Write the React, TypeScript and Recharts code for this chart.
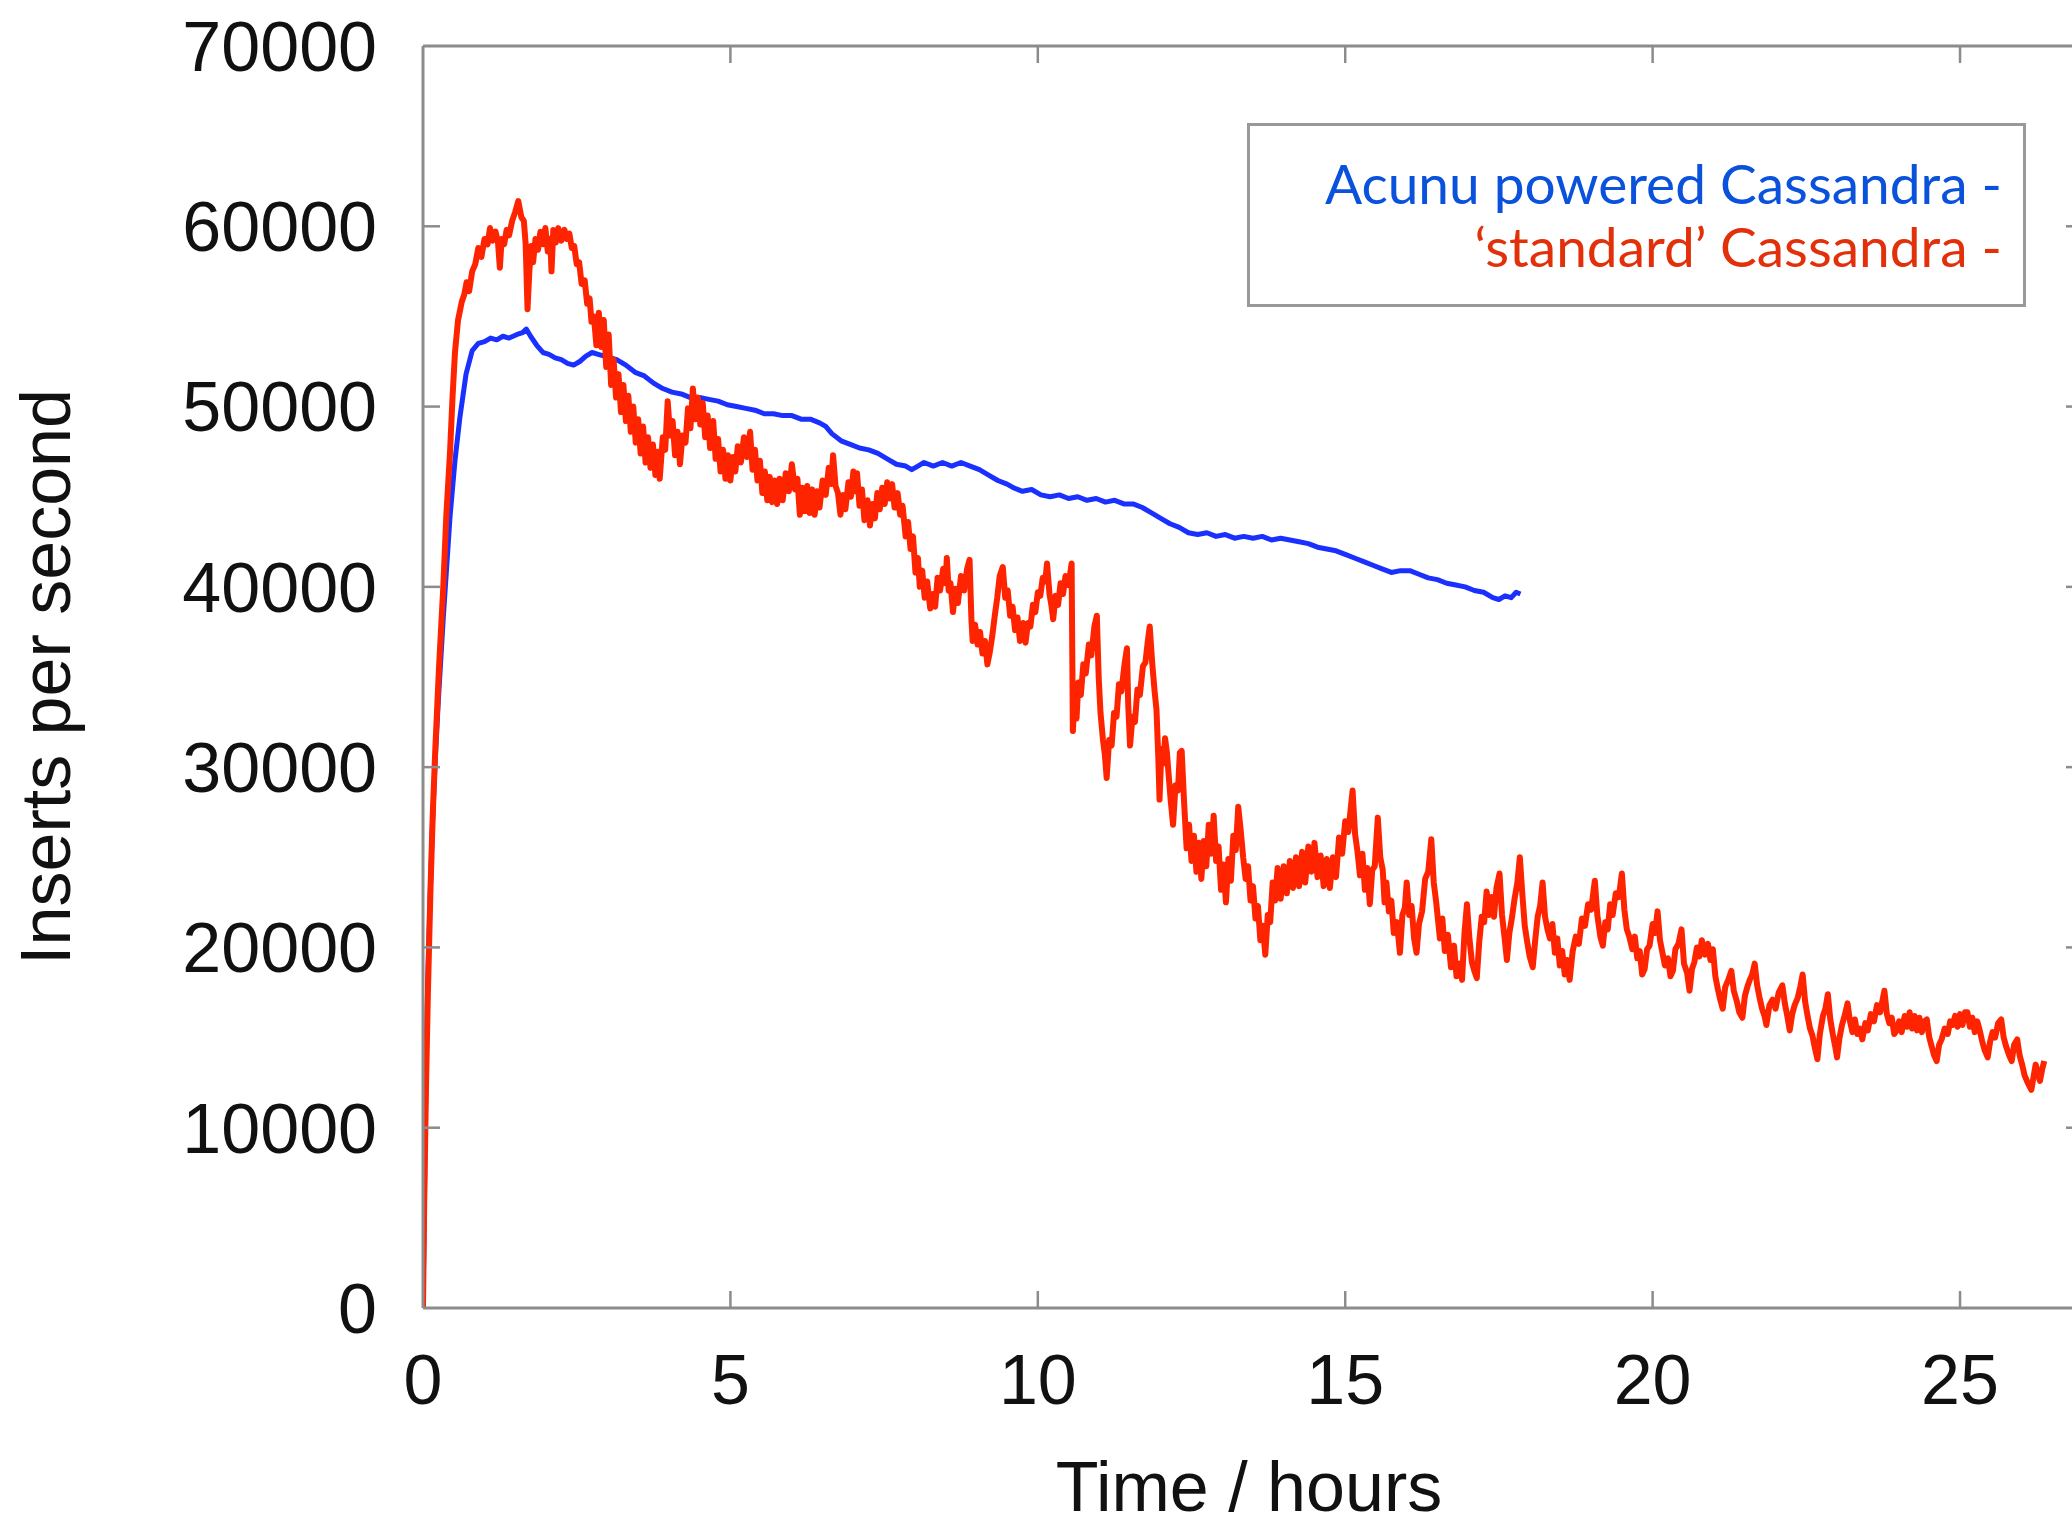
import React from 'react';
import { LineChart, Line, XAxis, YAxis } from 'recharts';

// ---- data (hours, inserts per second) ----
const acunuSeries: [number, number][] = [
  [0, 0], [0.02, 5000], [0.05, 13700], [0.08, 18500], [0.11, 22200], [0.15, 26500], [0.2, 30500], [0.25, 33700],
  [0.33, 38300], [0.44, 43900], [0.52, 47000], [0.6, 49400], [0.7, 51800], [0.8, 53100], [0.9, 53500], [1.0, 53600],
  [1.1, 53800], [1.2, 53700], [1.3, 53900], [1.4, 53800], [1.53, 54000], [1.62, 54100], [1.68, 54300], [1.75, 53900],
  [1.85, 53400], [1.95, 53000], [2.05, 52900], [2.15, 52700], [2.25, 52600], [2.35, 52400], [2.45, 52300], [2.55, 52500],
  [2.65, 52800], [2.75, 53000], [2.85, 52900], [2.95, 52800], [3.05, 52700], [3.15, 52600], [3.3, 52300], [3.45, 51900],
  [3.6, 51700], [3.75, 51300], [3.9, 51000], [4.05, 50800], [4.2, 50700], [4.35, 50500], [4.5, 50500], [4.65, 50400],
  [4.8, 50300], [4.95, 50100], [5.1, 50000], [5.25, 49900], [5.4, 49800], [5.55, 49600], [5.7, 49600], [5.85, 49500],
  [6.0, 49500], [6.15, 49300], [6.3, 49300], [6.45, 49100], [6.55, 48900], [6.65, 48500], [6.8, 48100], [6.95, 47900],
  [7.1, 47700], [7.25, 47600], [7.4, 47400], [7.55, 47100], [7.7, 46800], [7.85, 46700], [7.95, 46500], [8.05, 46700],
  [8.15, 46900], [8.3, 46700], [8.45, 46900], [8.6, 46700], [8.75, 46900], [8.9, 46700], [9.05, 46500], [9.2, 46200],
  [9.35, 45900], [9.5, 45700], [9.6, 45500], [9.75, 45300], [9.9, 45400], [10.05, 45100], [10.2, 45000], [10.35, 45100],
  [10.5, 44900], [10.65, 45000], [10.8, 44800], [10.95, 44900], [11.1, 44700], [11.25, 44800], [11.4, 44600], [11.55, 44600],
  [11.7, 44400], [11.85, 44100], [12.0, 43800], [12.15, 43500], [12.3, 43300], [12.45, 43000], [12.6, 42900], [12.75, 43000],
  [12.9, 42800], [13.05, 42900], [13.2, 42700], [13.35, 42800], [13.5, 42700], [13.65, 42800], [13.8, 42600], [13.95, 42700],
  [14.1, 42600], [14.25, 42500], [14.4, 42400], [14.55, 42200], [14.7, 42100], [14.85, 42000], [15.0, 41800], [15.15, 41600],
  [15.3, 41400], [15.45, 41200], [15.6, 41000], [15.75, 40800], [15.9, 40900], [16.05, 40900], [16.2, 40700], [16.35, 40500],
  [16.5, 40400], [16.65, 40200], [16.8, 40100], [16.95, 40000], [17.1, 39800], [17.25, 39700], [17.4, 39400], [17.5, 39300],
  [17.6, 39500], [17.7, 39400], [17.78, 39700], [17.85, 39600],
];

const standardSeries: [number, number][] = [
  [0, 0], [0.02, 6000], [0.05, 12500], [0.08, 17500], [0.12, 23000], [0.16, 27500], [0.2, 31000], [0.26, 35500],
  [0.33, 40000], [0.38, 44000], [0.44, 47500], [0.48, 50500], [0.52, 53000], [0.57, 54800], [0.63, 55800], [0.67, 56200],
  [0.71, 56900], [0.75, 56400], [0.8, 57500], [0.85, 57900], [0.9, 58800], [0.95, 58300], [1.0, 59300], [1.05, 59000],
  [1.09, 59900], [1.13, 59200], [1.18, 59700], [1.22, 59100], [1.25, 57700], [1.28, 59300], [1.32, 59000], [1.36, 59800],
  [1.4, 59500], [1.45, 60300], [1.5, 60800], [1.55, 61400], [1.6, 60500], [1.64, 60300], [1.67, 59000], [1.7, 55400],
  [1.73, 57500], [1.76, 58900], [1.79, 58000], [1.83, 59300], [1.87, 58700], [1.91, 59700], [1.95, 59000], [1.99, 59900],
  [2.03, 58600], [2.07, 59300], [2.09, 57500], [2.12, 59800], [2.16, 59100], [2.2, 59900], [2.25, 59200], [2.3, 59800],
  [2.34, 59300], [2.38, 59600], [2.42, 58800], [2.46, 58900], [2.5, 57900], [2.54, 58000], [2.58, 56800], [2.63, 57000],
  [2.67, 55700], [2.71, 56000], [2.74, 54700], [2.78, 55000], [2.82, 53400], [2.86, 55200], [2.9, 53300], [2.94, 54800],
  [2.98, 52200], [3.02, 54000], [3.06, 51200], [3.1, 52600], [3.14, 50500], [3.18, 51800], [3.22, 49700], [3.26, 51200],
  [3.3, 49200], [3.34, 50600], [3.38, 48600], [3.42, 50000], [3.46, 48000], [3.5, 49300], [3.54, 47400], [3.58, 48900],
  [3.62, 46900], [3.66, 48300], [3.7, 46600], [3.74, 47900], [3.78, 46200], [3.82, 47500], [3.85, 46000], [3.9, 48300],
  [3.94, 47600], [3.98, 50300], [4.02, 48400], [4.06, 49200], [4.1, 47300], [4.14, 48600], [4.18, 46800], [4.22, 48400],
  [4.27, 48000], [4.31, 49900], [4.35, 48800], [4.39, 51000], [4.43, 49300], [4.47, 50500], [4.51, 49000], [4.55, 50200],
  [4.59, 48300], [4.63, 49500], [4.67, 47700], [4.72, 49200], [4.76, 47100], [4.8, 48200], [4.84, 46400], [4.88, 47600],
  [4.92, 46000], [4.96, 47300], [5.0, 45900], [5.04, 47200], [5.08, 46400], [5.12, 47800], [5.17, 46900], [5.22, 48300],
  [5.27, 47200], [5.32, 48600], [5.36, 46500], [5.4, 47600], [5.44, 45900], [5.48, 47000], [5.52, 45200], [5.56, 46400],
  [5.6, 44800], [5.64, 46100], [5.68, 44700], [5.72, 45900], [5.76, 44600], [5.8, 46000], [5.85, 44800], [5.9, 46300],
  [5.95, 45300], [6.0, 46800], [6.05, 45400], [6.09, 46000], [6.13, 44000], [6.17, 45500], [6.21, 44200], [6.25, 45600],
  [6.29, 44100], [6.33, 45400], [6.37, 44000], [6.41, 45300], [6.45, 44400], [6.5, 45900], [6.55, 45100], [6.6, 46600],
  [6.64, 45700], [6.67, 47300], [6.71, 45600], [6.75, 45200], [6.79, 44000], [6.83, 45100], [6.87, 44300], [6.92, 45800],
  [6.96, 45000], [7.0, 46400], [7.03, 45300], [7.06, 46300], [7.1, 44500], [7.14, 45400], [7.18, 43700], [7.23, 44800],
  [7.27, 43400], [7.31, 44600], [7.35, 43800], [7.39, 45200], [7.43, 44300], [7.47, 45500], [7.51, 44600], [7.55, 45800],
  [7.59, 44900], [7.63, 45700], [7.67, 44400], [7.72, 45200], [7.76, 44000], [7.8, 44500], [7.85, 42800], [7.89, 43600],
  [7.93, 42100], [7.97, 42800], [8.01, 40800], [8.05, 41600], [8.08, 40000], [8.12, 40900], [8.16, 39400], [8.2, 40300],
  [8.25, 38800], [8.29, 39600], [8.33, 38900], [8.37, 40500], [8.41, 39800], [8.46, 41000], [8.5, 40200], [8.52, 41600],
  [8.55, 39800], [8.58, 40200], [8.62, 38600], [8.66, 39900], [8.7, 39100], [8.75, 40600], [8.8, 39800], [8.85, 41000],
  [8.89, 41500], [8.92, 38200], [8.94, 37000], [8.98, 37900], [9.02, 36800], [9.06, 37500], [9.1, 36300], [9.14, 37000],
  [9.18, 35700], [9.22, 36400], [9.26, 37300], [9.3, 38400], [9.34, 39400], [9.38, 40600], [9.43, 41100], [9.47, 39400],
  [9.51, 39800], [9.55, 38400], [9.59, 38900], [9.63, 37600], [9.67, 38300], [9.71, 37000], [9.76, 38000], [9.8, 36900],
  [9.84, 38000], [9.88, 37800], [9.92, 39000], [9.96, 38600], [10.0, 39700], [10.04, 39500], [10.08, 40500], [10.12, 40300],
  [10.15, 41300], [10.19, 39600], [10.22, 39000], [10.25, 38200], [10.29, 39500], [10.33, 39000], [10.37, 40200], [10.41, 39600],
  [10.45, 40600], [10.5, 40100], [10.55, 41300], [10.56, 36500], [10.57, 32000], [10.6, 33800], [10.63, 32700], [10.66, 34700],
  [10.7, 34000], [10.74, 35700], [10.78, 35200], [10.83, 36800], [10.87, 36200], [10.92, 37800], [10.96, 38400], [10.99, 35000],
  [11.02, 33000], [11.06, 31500], [11.09, 30700], [11.12, 29400], [11.16, 31500], [11.2, 31200], [11.24, 33000], [11.28, 32800],
  [11.32, 34600], [11.36, 34200], [11.41, 35700], [11.45, 36600], [11.47, 33500], [11.5, 31200], [11.54, 32800], [11.58, 32500],
  [11.62, 34300], [11.66, 34000], [11.71, 35600], [11.75, 35800], [11.79, 37000], [11.82, 37800], [11.86, 35800], [11.9, 34200],
  [11.93, 33200], [11.96, 30500], [11.98, 28200], [12.01, 31000], [12.04, 30200], [12.07, 31600], [12.1, 30800], [12.13, 29500],
  [12.16, 28200], [12.2, 26800], [12.24, 29000], [12.28, 28700], [12.31, 30800], [12.34, 30900], [12.38, 28000], [12.42, 25500],
  [12.46, 26800], [12.5, 24800], [12.54, 26200], [12.58, 24200], [12.62, 25800], [12.66, 23800], [12.7, 25900], [12.74, 24500],
  [12.78, 26800], [12.82, 25200], [12.86, 27300], [12.9, 24800], [12.94, 25600], [12.98, 23200], [13.02, 24600], [13.06, 22500],
  [13.1, 24900], [13.14, 23700], [13.18, 26200], [13.22, 25400], [13.26, 27800], [13.3, 26500], [13.34, 25000], [13.38, 23800],
  [13.42, 24500], [13.46, 22600], [13.5, 23400], [13.54, 21600], [13.58, 22300], [13.62, 20400], [13.66, 21200], [13.7, 19600],
  [13.74, 21800], [13.78, 21400], [13.82, 23600], [13.86, 22600], [13.9, 24400], [13.95, 22700], [14.0, 24500], [14.05, 23000],
  [14.1, 24800], [14.15, 23300], [14.2, 25000], [14.25, 23400], [14.3, 25300], [14.35, 23600], [14.4, 25600], [14.45, 24200],
  [14.5, 25800], [14.55, 23900], [14.6, 25100], [14.65, 23400], [14.7, 24900], [14.75, 23300], [14.8, 25000], [14.85, 23900],
  [14.9, 26100], [14.95, 25200], [15.0, 27000], [15.05, 26400], [15.12, 28700], [15.16, 26300], [15.2, 25300], [15.24, 24000],
  [15.28, 25200], [15.32, 23200], [15.36, 24400], [15.4, 22400], [15.44, 24300], [15.48, 24500], [15.53, 27200], [15.57, 25000],
  [15.61, 24300], [15.64, 22500], [15.67, 23600], [15.71, 22000], [15.75, 22600], [15.79, 20800], [15.84, 21400], [15.89, 19700],
  [15.93, 21800], [15.97, 22200], [16.0, 23600], [16.04, 21800], [16.08, 22300], [16.12, 20500], [16.16, 19700], [16.2, 21300],
  [16.25, 22000], [16.3, 23800], [16.35, 24200], [16.4, 26000], [16.44, 23600], [16.48, 22500], [16.51, 21500], [16.54, 20500],
  [16.58, 21600], [16.62, 19800], [16.67, 20700], [16.72, 18900], [16.77, 20100], [16.81, 18400], [16.86, 19100], [16.9, 18200],
  [16.94, 20800], [16.98, 22400], [17.02, 20500], [17.06, 19200], [17.1, 18700], [17.14, 18300], [17.18, 20300], [17.22, 21700],
  [17.26, 21400], [17.3, 23100], [17.34, 21800], [17.38, 22800], [17.42, 21700], [17.46, 23300], [17.51, 24100], [17.55, 21800],
  [17.59, 20600], [17.63, 19300], [17.67, 20800], [17.71, 21600], [17.75, 22600], [17.8, 23600], [17.84, 25000], [17.88, 23000],
  [17.92, 21200], [17.96, 20300], [18.0, 19500], [18.05, 18900], [18.09, 20400], [18.13, 21700], [18.17, 22300], [18.21, 23600],
  [18.25, 21700], [18.29, 21000], [18.33, 20500], [18.37, 21300], [18.41, 19700], [18.45, 20500], [18.49, 19000], [18.53, 19800],
  [18.57, 18500], [18.61, 19300], [18.65, 18200], [18.7, 19800], [18.75, 20600], [18.8, 20200], [18.85, 21600], [18.9, 21200],
  [18.95, 22400], [19.0, 22100], [19.06, 23700], [19.1, 21800], [19.15, 20600], [19.19, 20100], [19.23, 21400], [19.27, 21000],
  [19.31, 22400], [19.35, 21800], [19.4, 23000], [19.45, 22800], [19.5, 24100], [19.54, 22100], [19.58, 21000], [19.62, 20600],
  [19.67, 19900], [19.71, 20600], [19.75, 19400], [19.79, 19800], [19.83, 18500], [19.87, 18800], [19.91, 19900], [19.95, 20100],
  [20.0, 21300], [20.04, 20800], [20.08, 22000], [20.12, 20400], [20.16, 19700], [20.2, 19000], [20.25, 19400], [20.29, 18400],
  [20.33, 18700], [20.37, 19900], [20.42, 20200], [20.47, 21000], [20.51, 19100], [20.56, 18600], [20.6, 17600], [20.64, 18800],
  [20.68, 19200], [20.72, 20000], [20.76, 19500], [20.8, 20400], [20.85, 19600], [20.9, 20200], [20.94, 19300], [20.98, 19900],
  [21.02, 18400], [21.06, 17700], [21.1, 17100], [21.14, 16600], [21.18, 17800], [21.23, 18200], [21.28, 18700], [21.32, 17600],
  [21.37, 17000], [21.41, 16400], [21.46, 16100], [21.5, 17300], [21.54, 17800], [21.58, 18200], [21.62, 18500], [21.66, 19100],
  [21.7, 17900], [21.74, 17200], [21.78, 16600], [21.82, 16200], [21.85, 15700], [21.9, 16800], [21.95, 17100], [22.0, 16600],
  [22.05, 17500], [22.11, 17900], [22.15, 16900], [22.19, 16200], [22.23, 15400], [22.27, 16300], [22.31, 16800], [22.36, 17200],
  [22.4, 17800], [22.44, 18500], [22.48, 17000], [22.52, 16200], [22.56, 15500], [22.6, 15100], [22.64, 14400], [22.68, 13800],
  [22.72, 15200], [22.77, 16200], [22.81, 16600], [22.85, 17400], [22.89, 16000], [22.93, 15200], [22.97, 14500], [23.0, 13900],
  [23.04, 15000], [23.08, 15700], [23.13, 16300], [23.17, 16900], [23.21, 15900], [23.25, 15300], [23.29, 16000], [23.33, 15200],
  [23.37, 15500], [23.41, 14900], [23.46, 15800], [23.5, 15400], [23.55, 16300], [23.6, 15900], [23.65, 16800], [23.7, 16400],
  [23.77, 17600], [23.81, 16300], [23.85, 15800], [23.89, 16100], [23.93, 15200], [23.97, 15400], [24.01, 15900], [24.05, 15300],
  [24.1, 16200], [24.14, 15600], [24.18, 16400], [24.22, 15500], [24.26, 16200], [24.3, 15400], [24.34, 16100], [24.38, 15300],
  [24.42, 15900], [24.46, 16000], [24.5, 15000], [24.54, 14500], [24.58, 14000], [24.62, 13700], [24.66, 14600], [24.7, 14900],
  [24.75, 15500], [24.8, 15200], [24.84, 15900], [24.88, 15700], [24.92, 16200], [24.96, 15600], [25.0, 16300], [25.04, 15700],
  [25.08, 16400], [25.12, 16400], [25.16, 15600], [25.2, 16100], [25.24, 15300], [25.28, 15900], [25.32, 15400], [25.36, 14800],
  [25.4, 14300], [25.45, 13900], [25.49, 14800], [25.53, 15300], [25.57, 15000], [25.62, 15800], [25.67, 16000], [25.71, 15000],
  [25.75, 14500], [25.8, 14000], [25.84, 13700], [25.88, 14600], [25.93, 14900], [25.97, 14000], [26.01, 13500], [26.05, 12900],
  [26.1, 12500], [26.16, 12100], [26.2, 12900], [26.23, 13500], [26.26, 13100], [26.3, 12600], [26.34, 13300], [26.37, 13700],
];

const xTicks = [0, 5, 10, 15, 20, 25];
const yTicks = [0, 10000, 20000, 30000, 40000, 50000, 60000, 70000];
const xDomain: [number, number] = [0, 27];
const yDomain: [number, number] = [0, 70000];
const legendLabels = ['Acunu powered Cassandra -', '\u2018standard\u2019 Cassandra -'];

const acunuData = acunuSeries.map(([t, v]) => ({ t, v }));
const standardData = standardSeries.map(([t, v]) => ({ t, v }));

// ---- styling ----
const AXIS_COLOR = '#8c8c8c';
const TICK_LEN = 17;
const X_LABEL_GAP = 46;
const Y_LABEL_GAP = 46;
const FONT = "'Liberation Sans', Arial, Helvetica, sans-serif";
const BLUE = '#1a30ff';
const RED = '#ff2400';

const BottomTick = (props: any) => {
  const { x, y, payload } = props;
  const axisY = y - X_LABEL_GAP;
  return (
    <g>
      {payload.value !== 0 && (
        <line x1={x} x2={x} y1={axisY} y2={axisY - TICK_LEN} stroke={AXIS_COLOR} strokeWidth={2.5} />
      )}
      <text x={x} y={y} dy="0.71em" textAnchor="middle" fontSize={70} fontFamily={FONT} fill="#111">
        {payload.value}
      </text>
    </g>
  );
};

const TopTick = (props: any) => {
  const { x, y, payload } = props;
  if (payload.value === 0) return <g />;
  return <line x1={x} x2={x} y1={y} y2={y + TICK_LEN} stroke={AXIS_COLOR} strokeWidth={2.5} />;
};

const LeftTick = (props: any) => {
  const { x, y, payload } = props;
  const axisX = x + Y_LABEL_GAP;
  const inner = payload.value !== 0 && payload.value !== 70000;
  return (
    <g>
      {inner && <line x1={axisX} x2={axisX + TICK_LEN} y1={y} y2={y} stroke={AXIS_COLOR} strokeWidth={2.5} />}
      <text x={x} y={y} dy="0.355em" textAnchor="end" fontSize={70} fontFamily={FONT} fill="#111">
        {payload.value}
      </text>
    </g>
  );
};

const RightTick = (props: any) => {
  const { x, y, payload } = props;
  if (payload.value === 0 || payload.value === 70000) return <g />;
  return <line x1={x} x2={x - TICK_LEN} y1={y} y2={y} stroke={AXIS_COLOR} strokeWidth={2.5} />;
};

const XTitle = (props: any) => {
  const vb = props.viewBox || {};
  return (
    <text
      x={vb.x + vb.width / 2 - 4}
      y={vb.y + 203}
      textAnchor="middle"
      fontSize={70}
      fontFamily={FONT}
      fill="#111"
    >
      Time / hours
    </text>
  );
};

const YTitle = (props: any) => {
  const vb = props.viewBox || {};
  const cx = vb.x + 70;
  const cy = vb.y + vb.height / 2;
  return (
    <text
      x={cx}
      y={cy}
      transform={`rotate(-90, ${cx}, ${cy})`}
      textAnchor="middle"
      fontSize={70}
      fontFamily={FONT}
      fill="#111"
    >
      Inserts per second
    </text>
  );
};

const legendColors = ['#0a52dc', '#e2300a'];

export default function App() {
  return (
    <div
      style={{
        position: 'fixed',
        left: 0,
        top: 0,
        width: 2072,
        height: 1525,
        overflow: 'hidden',
        background: '#fff',
      }}
    >
      <LineChart
        width={2200}
        height={1525}
        margin={{ top: 0, right: 100, bottom: 0, left: 0 }}
      >
        <XAxis
          xAxisId="b"
          type="number"
          dataKey="t"
          domain={xDomain}
          ticks={xTicks}
          allowDataOverflow
          height={217}
          tickSize={0}
          tickMargin={X_LABEL_GAP}
          tick={BottomTick}
          tickLine={false}
          axisLine={{ stroke: AXIS_COLOR, strokeWidth: 3 }}
          interval={0}
          label={<XTitle />}
        />
        <XAxis
          xAxisId="t"
          orientation="top"
          type="number"
          dataKey="t"
          domain={xDomain}
          ticks={xTicks}
          allowDataOverflow
          height={46}
          tickSize={0}
          tickMargin={0}
          tick={TopTick}
          tickLine={false}
          axisLine={{ stroke: AXIS_COLOR, strokeWidth: 3 }}
          interval={0}
        />
        <YAxis
          yAxisId="l"
          type="number"
          domain={yDomain}
          ticks={yTicks}
          allowDataOverflow
          width={423}
          tickSize={0}
          tickMargin={Y_LABEL_GAP}
          tick={LeftTick}
          tickLine={false}
          axisLine={{ stroke: AXIS_COLOR, strokeWidth: 3 }}
          interval={0}
          label={<YTitle />}
        />
        <YAxis
          yAxisId="r"
          orientation="right"
          type="number"
          domain={yDomain}
          ticks={yTicks}
          allowDataOverflow
          width={17}
          tickSize={0}
          tickMargin={0}
          tick={RightTick}
          tickLine={false}
          axisLine={{ stroke: AXIS_COLOR, strokeWidth: 3 }}
          interval={0}
        />
        <Line
          xAxisId="b"
          yAxisId="l"
          data={acunuData}
          dataKey="v"
          type="linear"
          stroke={BLUE}
          strokeWidth={5}
          strokeLinejoin="round"
          dot={false}
          activeDot={false}
          isAnimationActive={false}
        />
        <Line
          xAxisId="b"
          yAxisId="l"
          data={standardData}
          dataKey="v"
          type="linear"
          stroke={RED}
          strokeWidth={6}
          strokeLinejoin="round"
          dot={false}
          activeDot={false}
          isAnimationActive={false}
        />
      </LineChart>
      <div
        style={{
          position: 'absolute',
          left: 1247,
          top: 123,
          width: 779,
          height: 184,
          boxSizing: 'border-box',
          border: '3px solid #999',
          background: '#fff',
          paddingTop: 26,
          paddingRight: 21,
          textAlign: 'right',
          fontFamily: "Lato, 'Open Sans', sans-serif",
          fontSize: 55,
          lineHeight: '63px',
          whiteSpace: 'nowrap',
        }}
      >
        {legendLabels.map((label, i) => (
          <div key={label} style={{ color: legendColors[i] }}>
            {label}
          </div>
        ))}
      </div>
    </div>
  );
}
